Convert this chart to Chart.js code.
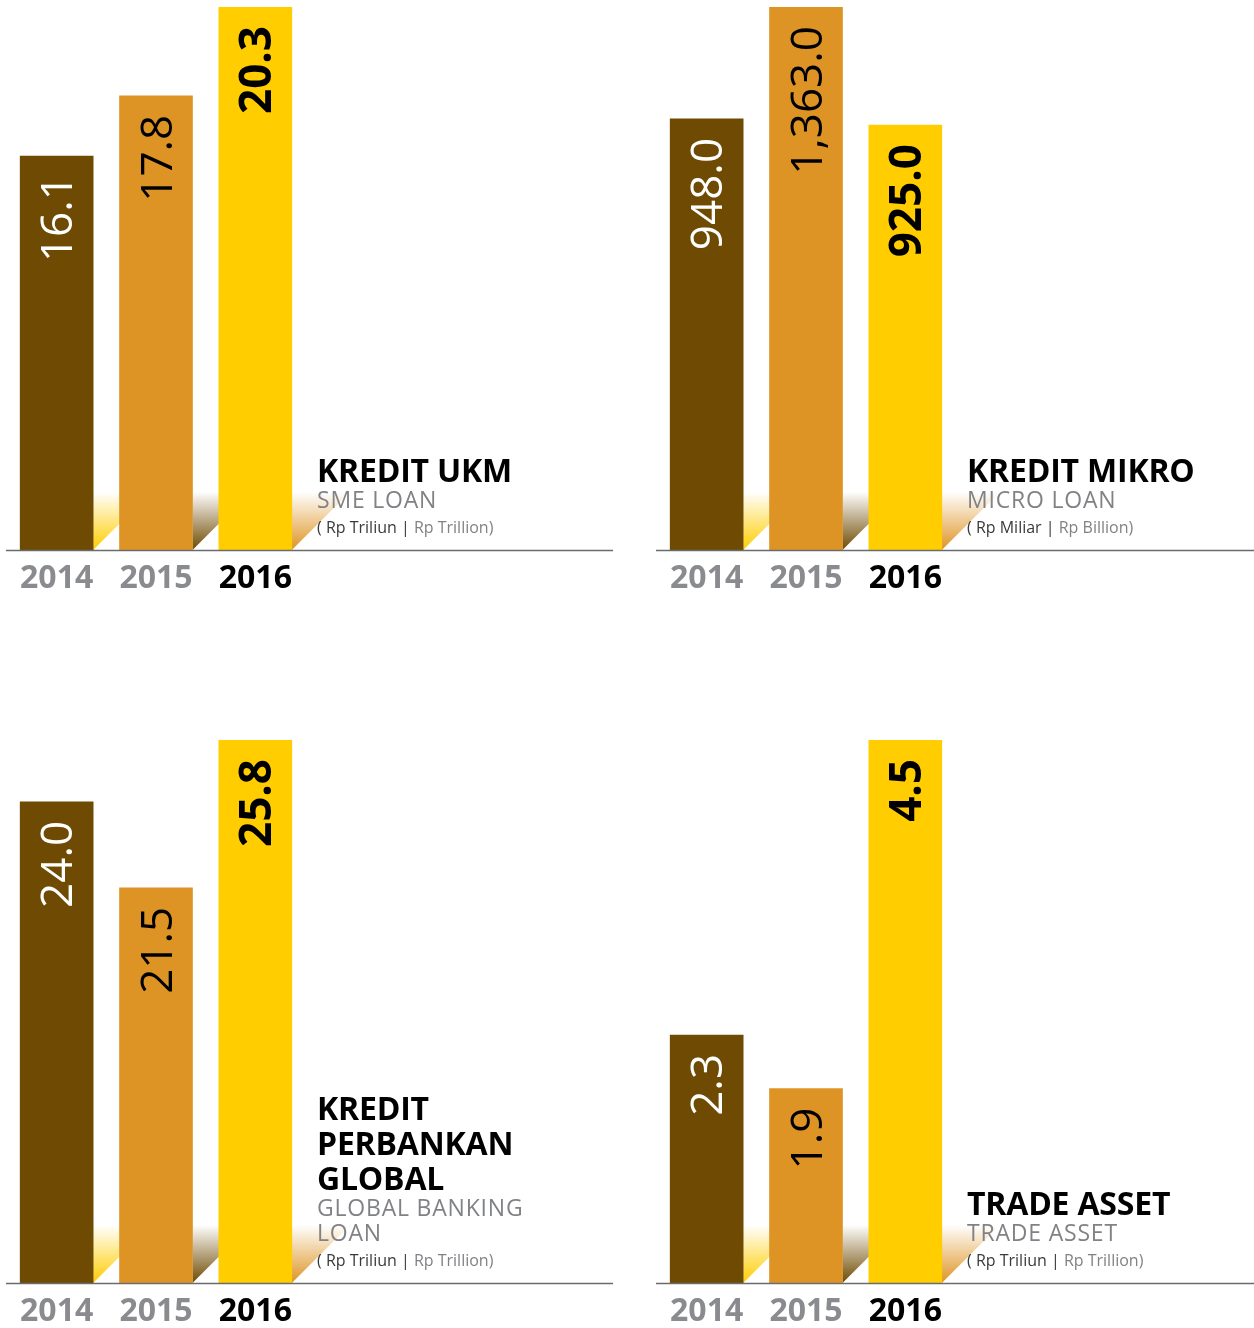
<!DOCTYPE html>
<html lang="en">
<head>
    <meta charset="UTF-8">
    <title>Kredit UKM, Mikro, Perbankan Global, Trade Asset</title>
    <script src="https://cdnjs.cloudflare.com/ajax/libs/Chart.js/4.4.0/chart.umd.min.js"></script>
    <style>
        html, body {
            margin: 0;
            padding: 0;
            background: #ffffff;
            overflow: hidden;
        }

        #page {
            position: relative;
            width: 1254px;
            height: 1328px;
            overflow: hidden;
        }

        .panel {
            position: absolute;
            width: 620px;
            height: 620px;
        }

        .panel canvas {
            position: absolute;
            left: 0;
            top: 0;
        }

        .info {
            position: absolute;
            left: 317px;
            bottom: 80px;
            font-family: "Open Sans", sans-serif;
            white-space: nowrap;
        }

        .info .title {
            font-size: 32px;
            font-weight: 700;
            line-height: 35px;
            color: #000;
            letter-spacing: -0.2px;
        }

        .info .sub {
            font-size: 23px;
            line-height: 25px;
            color: #808285;
            letter-spacing: 0.8px;
            margin-bottom: 2px;
        }

        .info .unit {
            font-size: 16px;
            line-height: 26px;
            color: #3a3a3a;
        }

        .info .unit span {
            color: #808285;
        }
    </style>
</head>
<body>
<div id="page"></div>

<script>
    // data
    var years = ['2014', '2015', '2016'];
    var smeLoan = [16.1, 17.8, 20.3];          // Rp Triliun
    var microLoan = [948.0, 1363.0, 925.0];    // Rp Miliar
    var globalLoan = [24.0, 21.5, 25.8];       // Rp Triliun
    var tradeAsset = [2.3, 1.9, 4.5];          // Rp Triliun

    var titles = [['KREDIT UKM'], ['KREDIT MIKRO'], ['KREDIT', 'PERBANKAN', 'GLOBAL'], ['TRADE ASSET']];
    var subtitles = [['SME LOAN'], ['MICRO LOAN'], ['GLOBAL BANKING', 'LOAN'], ['TRADE ASSET']];
    var unitsId = ['Rp Triliun', 'Rp Miliar', 'Rp Triliun', 'Rp Triliun'];
    var unitsEn = ['Rp Trillion', 'Rp Billion', 'Rp Trillion', 'Rp Trillion'];

    // the bars in the original are not to a zero scale, so each panel gets its own axis floor
    var axisMin = [5, -650, 10, 0.45];

    var barColors = ['#6e4a02', '#de9424', '#ffcd00'];
    var shadowColors = ['#ffcd00', '#6e4a02', '#de9424'];
    var labelColors = ['#ffffff', '#000000', '#000000'];
    var yearColors = ['#8a8b8e', '#8a8b8e', '#000000'];

    var panels = [
        { data: smeLoan, left: 0, top: 0 },
        { data: microLoan, left: 650, top: 0 },
        { data: globalLoan, left: 0, top: 733 },
        { data: tradeAsset, left: 650, top: 733 }
    ];

    function withAlpha(hex, a) {
        var r = parseInt(hex.substr(1, 2), 16);
        var g = parseInt(hex.substr(3, 2), 16);
        var b = parseInt(hex.substr(5, 2), 16);
        return 'rgba(' + r + ',' + g + ',' + b + ',' + a + ')';
    }

    function fmt(v) {
        return v.toLocaleString('en-US', { minimumFractionDigits: 1, maximumFractionDigits: 1 });
    }

    // fading shadow wedges next to each bar + the ground line
    var shadowPlugin = {
        id: 'shadows',
        beforeDatasetsDraw: function (chart) {
            var ctx = chart.ctx;
            var bottom = chart.chartArea.bottom;
            var size = 58;
            ctx.save();
            chart.getDatasetMeta(0).data.forEach(function (bar, i) {
                var right = bar.x + bar.width / 2;
                var grad = ctx.createLinearGradient(0, bottom - size, 0, bottom);
                grad.addColorStop(0, withAlpha(shadowColors[i], 0));
                grad.addColorStop(1, withAlpha(shadowColors[i], 1));
                ctx.fillStyle = grad;
                ctx.beginPath();
                ctx.moveTo(right, bottom);
                ctx.lineTo(right + size, bottom - size);
                ctx.lineTo(right, bottom - size);
                ctx.closePath();
                ctx.fill();
            });
            ctx.restore();
        },
        afterDatasetsDraw: function (chart) {
            var ctx = chart.ctx;
            var bottom = chart.chartArea.bottom;
            ctx.save();
            ctx.strokeStyle = '#6a6b6e';
            ctx.lineWidth = 1.3;
            ctx.beginPath();
            ctx.moveTo(6, bottom + 0.5);
            ctx.lineTo(613, bottom + 0.5);
            ctx.stroke();
            ctx.restore();
        }
    };

    // rotated value inside each bar
    var valuePlugin = {
        id: 'values',
        afterDatasetsDraw: function (chart) {
            var ctx = chart.ctx;
            var values = chart.data.datasets[0].data;
            ctx.save();
            chart.getDatasetMeta(0).data.forEach(function (bar, i) {
                ctx.save();
                ctx.translate(bar.x + 15.5, bar.y + 19);
                ctx.rotate(-Math.PI / 2);
                ctx.font = (i === 2 ? '700 ' : '400 ') + '44px "Open Sans"';
                ctx.fillStyle = labelColors[i];
                ctx.textAlign = 'right';
                ctx.textBaseline = 'alphabetic';
                ctx.fillText(fmt(values[i]), 0, 0);
                ctx.restore();
            });
            ctx.restore();
        }
    };

    var page = document.getElementById('page');

    panels.forEach(function (p, n) {
        var box = document.createElement('div');
        box.className = 'panel';
        box.style.left = p.left + 'px';
        box.style.top = p.top + 'px';
        var canvas = document.createElement('canvas');
        canvas.width = 620;
        canvas.height = 620;
        box.appendChild(canvas);

        var info = document.createElement('div');
        info.className = 'info';
        var html = '';
        titles[n].forEach(function (t) { html += '<div class="title">' + t + '</div>'; });
        html += '<div class="sub">' + subtitles[n].join('<br>') + '</div>';
        html += '<div class="unit">( ' + unitsId[n] + ' | <span>' + unitsEn[n] + ')</span></div>';
        info.innerHTML = html;
        box.appendChild(info);
        page.appendChild(box);

        new Chart(canvas.getContext('2d'), {
            type: 'bar',
            data: {
                labels: years,
                datasets: [{
                    data: p.data,
                    backgroundColor: barColors,
                    barThickness: 73,
                    base: axisMin[n]
                }]
            },
            options: {
                responsive: false,
                animation: false,
                layout: {
                    padding: { top: 7, left: 7, right: 315, bottom: 10 }
                },
                plugins: {
                    legend: { display: false },
                    tooltip: { enabled: false }
                },
                scales: {
                    x: {
                        grid: { display: false, drawTicks: false },
                        border: { display: false },
                        ticks: {
                            padding: 10,
                            color: function (c) { return yearColors[c.index]; },
                            font: { family: 'Open Sans', size: 32, weight: '700' }
                        },
                        afterFit: function (scale) { scale.height = 60; }
                    },
                    y: {
                        display: false,
                        min: axisMin[n],
                        max: Math.max.apply(null, p.data)
                    }
                }
            },
            plugins: [shadowPlugin, valuePlugin]
        });
    });
</script>
</body>
</html>
